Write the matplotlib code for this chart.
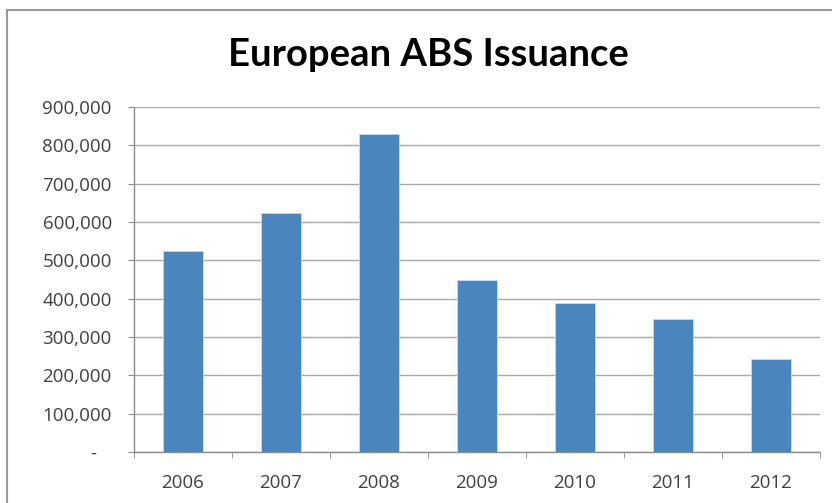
import matplotlib
matplotlib.use("Agg")
import matplotlib.pyplot as plt
from matplotlib.patches import Rectangle
from matplotlib.ticker import FixedLocator, FuncFormatter
import numpy as np

years = ["2006", "2007", "2008", "2009", "2010", "2011", "2012"]
issuance = [524000, 624000, 830000, 449000, 389000, 347000, 243000]
y_ticks = [0, 100000, 200000, 300000, 400000, 500000, 600000, 700000, 800000, 900000]
title = "European ABS Issuance"

W, H = 832, 503
fig = plt.figure(figsize=(W / 100, H / 100), dpi=100)
fig.patch.set_facecolor("white")

# chart-area frame (extends beyond right/bottom edges)
fig.patches.append(Rectangle((7 / W, -0.1), 1.2, 1.1 - 10 / H, transform=fig.transFigure,
                             fill=False, edgecolor="#9a9a9a", linewidth=1.5))

left, right, top, bottom = 134, 820, 107, 452
ax = fig.add_axes([left / W, 1 - bottom / H, (right - left) / W, (bottom - top) / H])

x = np.arange(len(years))
ax.bar(x, issuance, width=0.4, color="#4a86bd", edgecolor="#c9dcee", linewidth=0.6, zorder=3)

ax.set_xlim(-0.5, len(years) - 0.5)
ax.set_ylim(0, 900000)
ax.set_yticks(y_ticks)
ax.yaxis.set_major_formatter(FuncFormatter(lambda v, p: "-   " if v == 0 else f"{int(v):,}"))
ax.set_xticks(x)
ax.set_xticklabels(years)
ax.xaxis.set_minor_locator(FixedLocator(np.arange(-0.5, len(years), 1.0)))

for s in ["top", "right"]:
    ax.spines[s].set_visible(False)
for s in ["left", "bottom"]:
    ax.spines[s].set_color("#8c8c8c")
    ax.spines[s].set_linewidth(1.0)

ax.grid(axis="y", color="#a9a9a9", linewidth=1.0, zorder=0)
ax.tick_params(axis="y", which="major", length=4, color="#8c8c8c", labelsize=13.5,
               labelcolor="#404040", pad=12)
ax.tick_params(axis="x", which="major", length=0, labelsize=13.5, labelcolor="#404040", pad=16)
ax.tick_params(axis="x", which="minor", length=4, color="#8c8c8c")
for lab in ax.get_xticklabels() + ax.get_yticklabels():
    lab.set_family(["Open Sans", "DejaVu Sans"])

fig.text(428 / W, 1 - 55 / H, title, ha="center", va="center", fontsize=27.5,
         fontweight="bold", family=["Lato", "DejaVu Sans"], color="black")

fig.savefig("out.png", dpi=100)
